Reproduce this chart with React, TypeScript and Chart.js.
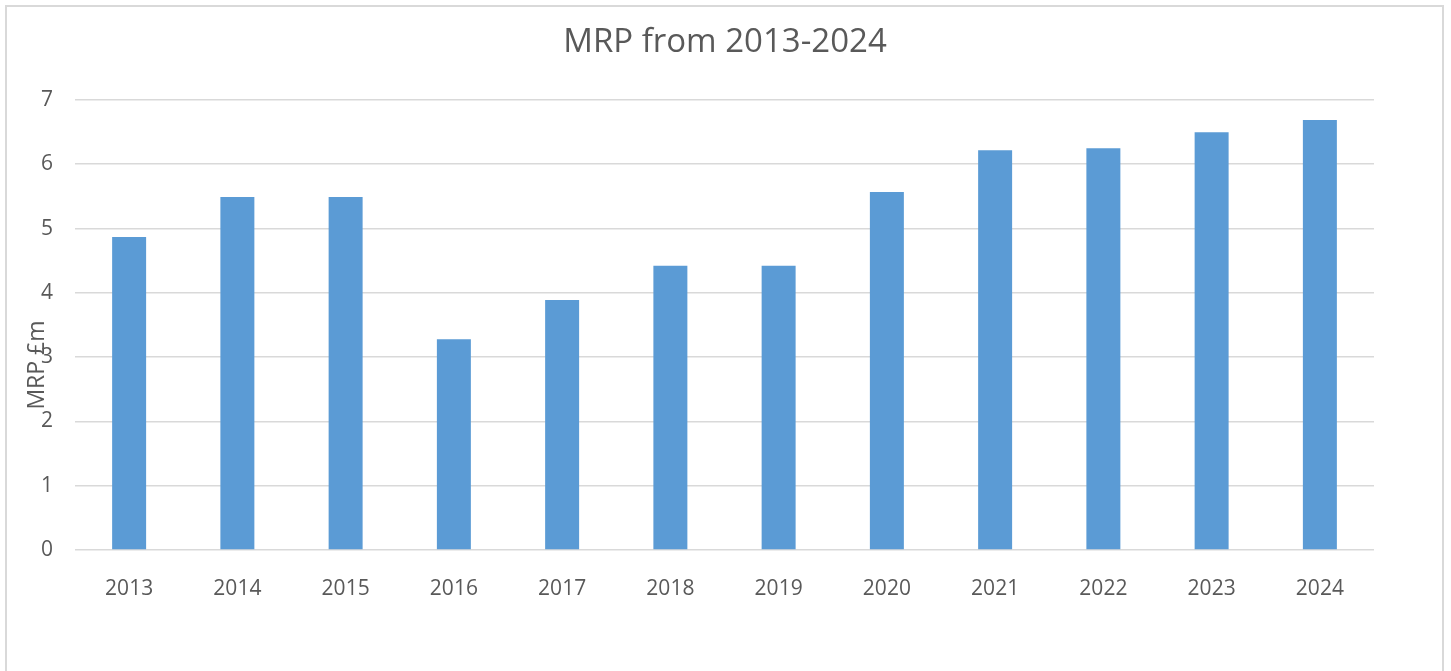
import React, { useEffect, useRef } from "react";
import { Chart, registerables } from "chart.js";

Chart.register(...registerables);

const categories = ["2013", "2014", "2015", "2016", "2017", "2018", "2019", "2020", "2021", "2022", "2023", "2024"];
const mrpValues = [4.87, 5.49, 5.49, 3.28, 3.89, 4.42, 4.42, 5.57, 6.22, 6.25, 6.5, 6.69];
const yTicks = [0, 1, 2, 3, 4, 5, 6, 7];
const titleText = "MRP from 2013-2024";
const yLabel = "MRP £m";

const FONT = "'Open Sans', 'Noto Sans', sans-serif";
const TEXT = "#595959";
const GRID = "#D9D9D9";

const framePlugin = {
  id: "frame",
  beforeDraw(chart: any) {
    const ctx = chart.ctx;
    ctx.save();
    ctx.fillStyle = "#ffffff";
    ctx.fillRect(0, 0, chart.width, chart.height);
    ctx.strokeStyle = GRID;
    ctx.lineWidth = 2;
    ctx.strokeRect(6, 6, 1437, 700);
    ctx.restore();
  },
  afterDraw(chart: any) {
    const ctx = chart.ctx;
    ctx.save();
    ctx.fillStyle = TEXT;
    ctx.font = `33px ${FONT}`;
    ctx.textAlign = "center";
    ctx.textBaseline = "middle";
    ctx.fillText(titleText, 725, 43);
    ctx.translate(37, 365);
    ctx.rotate(-Math.PI / 2);
    ctx.font = `23px ${FONT}`;
    ctx.fillText(yLabel, 0, 0);
    ctx.restore();
  },
};

export default function App() {
  const ref = useRef<HTMLCanvasElement>(null);
  useEffect(() => {
    document.body.style.margin = "0";
    const chart = new Chart(ref.current!, {
      type: "bar",
      data: {
        labels: categories,
        datasets: [
          {
            label: "MRP",
            data: mrpValues,
            backgroundColor: "#5B9BD5",
            categoryPercentage: 1,
            barPercentage: 0.314,
          },
        ],
      },
      options: {
        animation: false,
        responsive: false,
        devicePixelRatio: 1,
        layout: { padding: { left: 0, right: 77, top: 100, bottom: 0 } },
        plugins: {
          legend: { display: false },
          tooltip: { enabled: false },
          title: { display: false },
        },
        scales: {
          x: {
            grid: { display: false, drawTicks: false },
            border: { display: false },
            ticks: { color: TEXT, font: { family: FONT, size: 21 }, padding: 26, maxRotation: 0 },
            afterFit(scale: any) {
              scale.height = 121;
            },
          },
          y: {
            min: 0,
            max: 7,
            afterBuildTicks(scale: any) {
              scale.ticks = yTicks.map((v) => ({ value: v }));
            },
            grid: { color: GRID, lineWidth: 1.6, drawTicks: false },
            border: { display: false },
            ticks: { color: TEXT, font: { family: FONT, size: 21 }, padding: 22 },
            afterFit(scale: any) {
              scale.width = 75;
            },
          },
        },
      },
      plugins: [framePlugin],
    });
    return () => chart.destroy();
  }, []);
  return (
    <div style={{ width: 1451, height: 671 }}>
      <canvas ref={ref} width={1451} height={671} style={{ display: "block" }} />
    </div>
  );
}
